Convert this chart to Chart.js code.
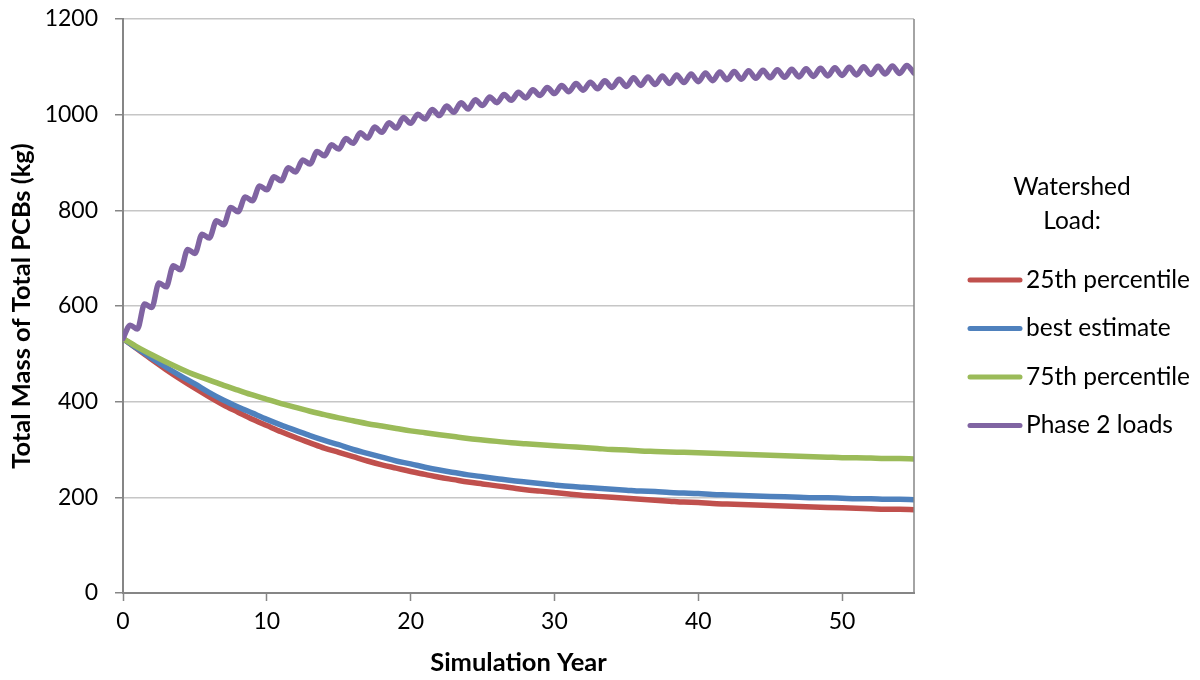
<!DOCTYPE html>
<html>
<head>
<meta charset="utf-8">
<script src="https://cdn.jsdelivr.net/npm/chart.js@4.4.1/dist/chart.umd.min.js"></script>
<style>
  html, body { margin: 0; padding: 0; background: #fff; }
  #wrap { width: 1200px; height: 680px; }
</style>
</head>
<body>
<div id="wrap"><canvas id="pcb"></canvas></div>
<script>
//DATA
const simYears = [0,1,2,3,4,5,6,7,8,9,10,11,12,13,14,15,16,17,18,19,20,21,22,23,24,25,26,27,
  28,29,30,31,32,33,34,35,36,37,38,39,40,41,42,43,44,45,46,47,48,49,50,51,52,53,54,55];
const halfYears = [0,0.5,1,1.5,2,2.5,3,3.5,4,4.5,5,5.5,6,6.5,7,7.5,8,8.5,9,9.5,10,10.5,11,11.5,
  12,12.5,13,13.5,14,14.5,15,15.5,16,16.5,17,17.5,18,18.5,19,19.5,20,20.5,21,21.5,22,22.5,23,23.5,
  24,24.5,25,25.5,26,26.5,27,27.5,28,28.5,29,29.5,30,30.5,31,31.5,32,32.5,33,33.5,34,34.5,35,35.5,
  36,36.5,37,37.5,38,38.5,39,39.5,40,40.5,41,41.5,42,42.5,43,43.5,44,44.5,45,45.5,46,46.5,47,47.5,
  48,48.5,49,49.5,50,50.5,51,51.5,52,52.5,53,53.5,54,54.5,55];
const xTickValues = [0, 10, 20, 30, 40, 50];

const load25th = [532,510,488,467,447,428,410,393,378,363,350,337,325,314,303,294,285,276,268,261,
  254,248,242,237,232,228,224,220,216,213,210,207,204,202,200,198,196,194,192,190,189,187,186,185,
  184,183,182,181,180,179,178,177,176,175,175,174];
const loadBest = [532,511,491,472,454,437,419,403,389,376,363,351,340,329,319,310,300,292,284,276,
  270,263,257,252,247,243,239,235,232,229,226,223,221,219,217,215,213,212,210,209,208,206,205,204,
  203,202,201,200,199,199,198,197,197,196,196,195];
const load75th = [532,514,498,483,469,456,445,434,424,414,405,396,388,380,373,366,360,354,349,344,
  339,335,331,327,323,320,317,314,312,310,308,306,304,302,300,299,297,296,295,294,293,292,291,290,
  289,288,287,286,285,284,283,283,282,281,281,280];
const loadPhase2 = [532,560,552,604,597,648,640,684,676,718,710,750,742,778,770,806,797,828,820,851,
  843,870,862,889,880,905,897,923,914,937,928,950,940,962,951,974,963,983,972,994,982,1001,991,1011,
  998,1018,1005,1025,1012,1031,1019,1037,1025,1042,1030,1047,1035,1052,1040,1057,1044,1061,1048,1065,
  1051,1068,1054,1071,1057,1074,1059,1077,1061,1079,1063,1081,1065,1083,1067,1085,1069,1087,1071,1089,
  1073,1090,1074,1092,1076,1093,1077,1094,1078,1095,1079,1096,1080,1097,1081,1098,1082,1099,1083,1100,
  1084,1101,1085,1102,1086,1103,1087,1104,1096];

const seriesLabels = ['25th percentile', 'best estimate', '75th percentile', 'Phase 2 loads'];
const seriesColors = ['#C0504D', '#4F81BD', '#9BBB59', '#8064A2'];
const legendTitle = ['Watershed', 'Load:'];

const FONT = 'Lato, "Open Sans", sans-serif';
const AXIS_GRAY = '#868686';
const GRID_GRAY = '#c6c6c6';

function toPoints(xs, ys){
    return ys.map((v, i) => ({x: xs[i], y: v}));
}

// legend + right border, drawn by hand so the two-line title fits
const sideLegend = {
    id: 'sideLegend',
    afterDraw(chart){
        const ctx = chart.ctx;
        const area = chart.chartArea;
        ctx.save();
        ctx.strokeStyle = AXIS_GRAY;
        ctx.lineWidth = 1.5;
        ctx.beginPath();
        ctx.moveTo(area.right, area.top);
        ctx.lineTo(area.right, area.bottom);
        ctx.stroke();

        ctx.fillStyle = '#000';
        ctx.font = '24.5px ' + FONT;
        ctx.textAlign = 'center';
        ctx.textBaseline = 'middle';
        ctx.fillText(legendTitle[0], 1072, 187);
        ctx.fillText(legendTitle[1], 1072, 221);

        ctx.textAlign = 'left';
        chart.data.datasets.forEach((ds, i) => {
            const y = 280 + i * 48.5;
            ctx.strokeStyle = ds.borderColor;
            ctx.lineWidth = 5;
            ctx.lineCap = 'round';
            ctx.beginPath();
            ctx.moveTo(970, y);
            ctx.lineTo(1020, y);
            ctx.stroke();
            ctx.fillText(ds.label, 1026, y);
        });
        ctx.restore();
    }
};

const datasets = [
    {label: seriesLabels[0], data: toPoints(simYears, load25th), borderColor: seriesColors[0], order: 4},
    {label: seriesLabels[1], data: toPoints(simYears, loadBest), borderColor: seriesColors[1], order: 3},
    {label: seriesLabels[2], data: toPoints(simYears, load75th), borderColor: seriesColors[2], order: 2},
    {label: seriesLabels[3], data: toPoints(halfYears, loadPhase2), borderColor: seriesColors[3], order: 1},
].map(d => Object.assign(d, {
    borderWidth: 5.5,
    pointRadius: 0,
    fill: false,
    cubicInterpolationMode: 'monotone',
    borderCapStyle: 'round',
    borderJoinStyle: 'round',
}));

const config = {
    type: 'line',
    data: {datasets: datasets},
    options: {
        responsive: false,
        animation: false,
        layout: {padding: {top: 19, right: 286, bottom: 0, left: 0}},
        plugins: {
            legend: {display: false},
            tooltip: {enabled: false},
        },
        scales: {
            x: {
                type: 'linear',
                min: 0,
                max: 55,
                afterFit: s => { s.height = 87; },
                afterBuildTicks: s => { s.ticks = xTickValues.map(v => ({value: v})); },
                ticks: {color: '#000', padding: 7, maxRotation: 0,
                        font: {family: FONT, size: 23}},
                grid: {drawOnChartArea: false, drawTicks: true, tickLength: 8,
                       tickColor: AXIS_GRAY, tickWidth: 1.5},
                border: {color: AXIS_GRAY, width: 2},
                title: {display: true, text: 'Simulation Year', color: '#000',
                        padding: {top: 0, bottom: 2},
                        font: {family: FONT, size: 25.5, weight: 'bold'}},
            },
            y: {
                min: 0,
                max: 1200,
                afterFit: s => { s.width = 123; s.paddingTop = 0; s.paddingBottom = 0; },
                ticks: {stepSize: 200, color: '#000', padding: 17,
                        callback: v => String(v),
                        font: {family: FONT, size: 23}},
                grid: {color: GRID_GRAY, lineWidth: 1.5, tickLength: 8,
                       tickColor: AXIS_GRAY, tickWidth: 1.5},
                border: {color: AXIS_GRAY, width: 2},
                title: {display: true, text: 'Total Mass of Total PCBs (kg)', color: '#000',
                        padding: {top: 6, bottom: 0},
                        font: {family: FONT, size: 25.5, weight: 'bold'}},
            },
        },
    },
    plugins: [sideLegend],
};

const canvas = document.querySelector('#pcb');
canvas.width = 1200;
canvas.height = 680;
new Chart(canvas, config);
</script>
</body>
</html>
